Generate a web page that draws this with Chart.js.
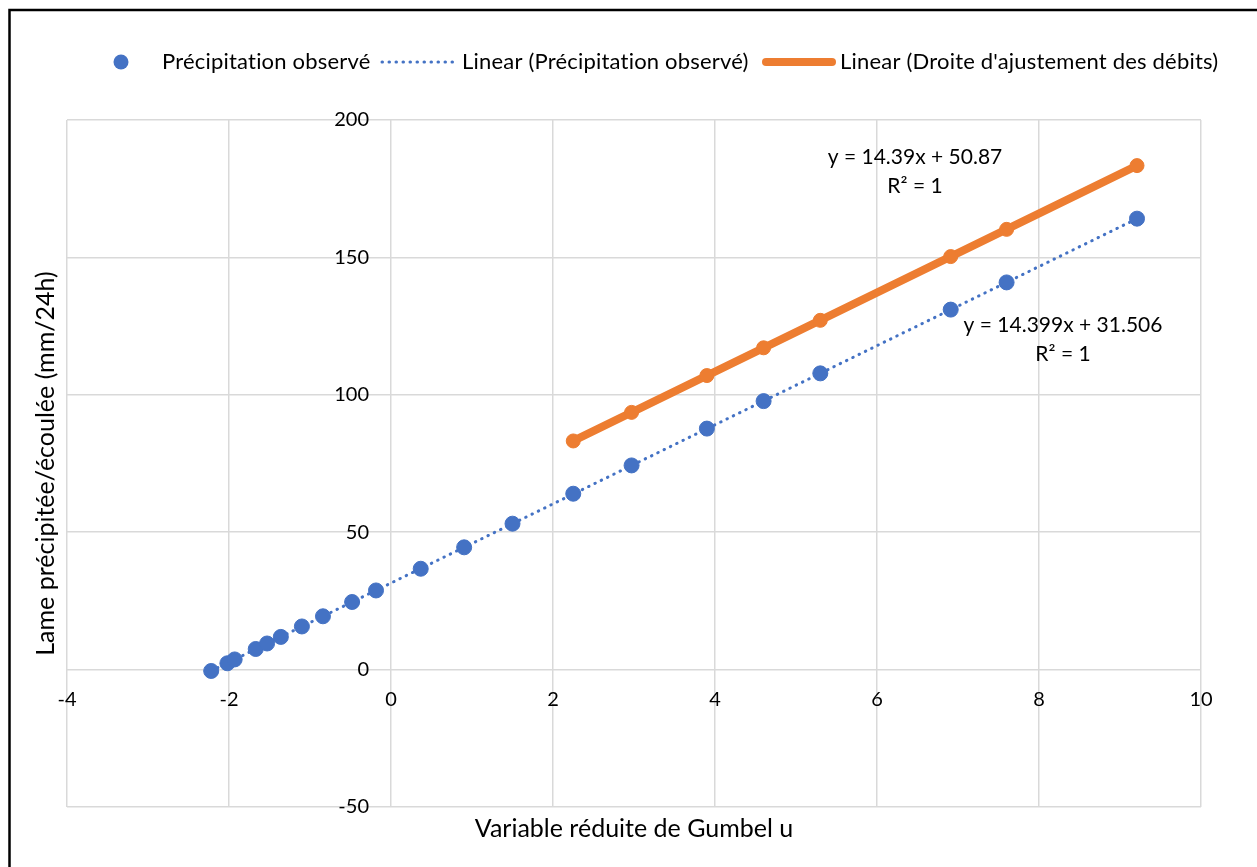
<!DOCTYPE html>
<html>
<head>
<meta charset="utf-8">
<script src="https://cdn.jsdelivr.net/npm/chart.js@4.4.1/dist/chart.umd.min.js"></script>
<style>
  html, body { margin: 0; padding: 0; background: #fff; }
  #wrap { position: relative; width: 1257px; height: 867px; }
</style>
</head>
<body>
<div id="wrap"><canvas id="chart"></canvas></div>
<script>
// Observed precipitation vs Gumbel reduced variate
const obsU  = [-2.22, -2.02, -1.93, -1.67, -1.53, -1.36, -1.10, -0.84, -0.48, -0.185, 0.367, 0.903, 1.50, 2.25, 2.97, 3.90, 4.60, 5.30, 6.91, 7.60, 9.21];
const obsMm = [-0.5, 2.3, 3.7, 7.5, 9.5, 11.9, 15.7, 19.4, 24.6, 28.8, 36.7, 44.5, 53.1, 64.0, 74.3, 87.7, 97.7, 107.8, 131.0, 140.9, 164.1];

// Discharge fit points
const debitU  = [2.25, 2.97, 3.90, 4.60, 5.30, 6.91, 7.60, 9.21];
const debitMm = [83.2, 93.6, 107.0, 117.1, 127.1, 150.3, 160.2, 183.4];

// Trendline end points
const obsTrendU  = [-2.22, 9.21];
const obsTrendMm = [-0.46, 164.1];
const debitTrendU  = [2.25, 9.21];
const debitTrendMm = [83.2, 183.4];

const xTicks = [-4, -2, 0, 2, 4, 6, 8, 10];
const yTicks = [-50, 0, 50, 100, 150, 200];

const eqDebit = ['y = 14.39x + 50.87', 'R² = 1'];
const eqObs = ['y = 14.399x + 31.506', 'R² = 1'];

const BLUE = '#4472C4';
const ORANGE = '#ED7D31';
const FONT = 'Lato, "Noto Sans", sans-serif';

const toPts = (xs, ys) => xs.map((v, i) => ({ x: v, y: ys[i] }));

// Frame, titles, y tick labels, legend and equations
const decor = {
    id: 'decor',
    beforeDraw(chart) {
        const ctx = chart.ctx;
        ctx.save();
        ctx.fillStyle = '#fff';
        ctx.fillRect(0, 0, chart.width, chart.height);
        ctx.restore();
    },
    afterDraw(chart) {
        const ctx = chart.ctx;
        const area = chart.chartArea;
        const xs = chart.scales.x, ys = chart.scales.y;
        ctx.save();

        // outer frame (top and left only visible)
        ctx.strokeStyle = '#000';
        ctx.lineWidth = 2.5;
        ctx.beginPath();
        ctx.moveTo(9.5, chart.height);
        ctx.lineTo(9.5, 10);
        ctx.lineTo(chart.width, 10);
        ctx.stroke();

        ctx.fillStyle = '#000';
        ctx.textBaseline = 'middle';

        // y tick labels, left of the value axis
        ctx.font = '20px ' + FONT;
        ctx.textAlign = 'right';
        const x0 = xs.getPixelForValue(0);
        ys.ticks.forEach(t => {
            ctx.fillText(String(t.value), x0 - 22, ys.getPixelForValue(t.value));
        });

        // axis titles
        ctx.font = '25px ' + FONT;
        ctx.textAlign = 'center';
        ctx.fillText('Variable réduite de Gumbel u', (area.left + area.right) / 2, 829);
        ctx.save();
        ctx.translate(46, (area.top + area.bottom) / 2);
        ctx.rotate(-Math.PI / 2);
        ctx.fillText('Lame précipitée/écoulée (mm/24h)', 0, 0);
        ctx.restore();

        // equations
        ctx.font = '21px ' + FONT;
        ctx.fillText(eqDebit[0], 915, 157);
        ctx.fillText(eqDebit[1], 915, 186);
        ctx.fillText(eqObs[0], 1063, 325);
        ctx.fillText(eqObs[1], 1063, 354);

        // legend
        const ds = chart.data.datasets;
        const ly = 62;
        ctx.font = '22px ' + FONT;
        ctx.letterSpacing = '0.2px';
        ctx.textAlign = 'left';

        ctx.fillStyle = ds[0].backgroundColor;
        ctx.beginPath();
        ctx.arc(121, ly, 7.5, 0, Math.PI * 2);
        ctx.fill();
        ctx.fillStyle = '#000';
        ctx.fillText(ds[0].label, 162, ly);

        ctx.strokeStyle = ds[1].borderColor;
        ctx.lineWidth = ds[1].borderWidth;
        ctx.lineCap = 'round';
        ctx.setLineDash(ds[1].borderDash);
        ctx.beginPath();
        ctx.moveTo(382, ly);
        ctx.lineTo(455, ly);
        ctx.stroke();
        ctx.setLineDash([]);
        ctx.fillText(ds[1].label, 462, ly);

        ctx.strokeStyle = ds[3].borderColor;
        ctx.lineWidth = ds[3].borderWidth;
        ctx.beginPath();
        ctx.moveTo(766, ly);
        ctx.lineTo(832, ly);
        ctx.stroke();
        ctx.fillText(ds[3].label, 840, ly);

        ctx.restore();
    }
};

const ctx = document.getElementById('chart').getContext('2d');
new Chart(ctx, {
    type: 'scatter',
    data: {
        datasets: [{
            label: 'Précipitation observé',
            data: toPts(obsU, obsMm),
            backgroundColor: BLUE,
            borderColor: BLUE,
            pointRadius: 7.5,
            pointHoverRadius: 7.5,
            order: 1
        }, {
            label: 'Linear (Précipitation observé)',
            data: toPts(obsTrendU, obsTrendMm),
            showLine: true,
            borderColor: BLUE,
            borderWidth: 3,
            borderDash: [0.5, 6.5],
            borderCapStyle: 'round',
            pointRadius: 0,
            order: 2
        }, {
            label: "Droite d'ajustement des débits",
            data: toPts(debitU, debitMm),
            backgroundColor: ORANGE,
            borderColor: ORANGE,
            pointRadius: 7,
            pointHoverRadius: 7,
            order: 0
        }, {
            label: "Linear (Droite d'ajustement des débits)",
            data: toPts(debitTrendU, debitTrendMm),
            showLine: true,
            borderColor: ORANGE,
            borderWidth: 8,
            borderCapStyle: 'round',
            pointRadius: 0,
            order: 0
        }]
    },
    options: {
        responsive: true,
        maintainAspectRatio: false,
        animation: false,
        layout: { padding: { left: 67, right: 56, top: 120, bottom: 60 } },
        plugins: {
            legend: { display: false },
            tooltip: { enabled: false }
        },
        scales: {
            x: {
                type: 'linear',
                position: { y: 0 },
                min: xTicks[0],
                max: xTicks[xTicks.length - 1],
                border: { display: false },
                grid: { color: '#d9d9d9', lineWidth: 1.5, drawTicks: false },
                ticks: {
                    stepSize: 2,
                    padding: 18,
                    color: '#000',
                    font: { family: FONT, size: 20 }
                }
            },
            y: {
                type: 'linear',
                position: { x: 0 },
                min: yTicks[0],
                max: yTicks[yTicks.length - 1],
                border: { display: false },
                grid: { color: '#d9d9d9', lineWidth: 1.5, drawTicks: false },
                ticks: {
                    display: false,
                    stepSize: 50
                }
            }
        }
    },
    plugins: [decor]
});
</script>
</body>
</html>
